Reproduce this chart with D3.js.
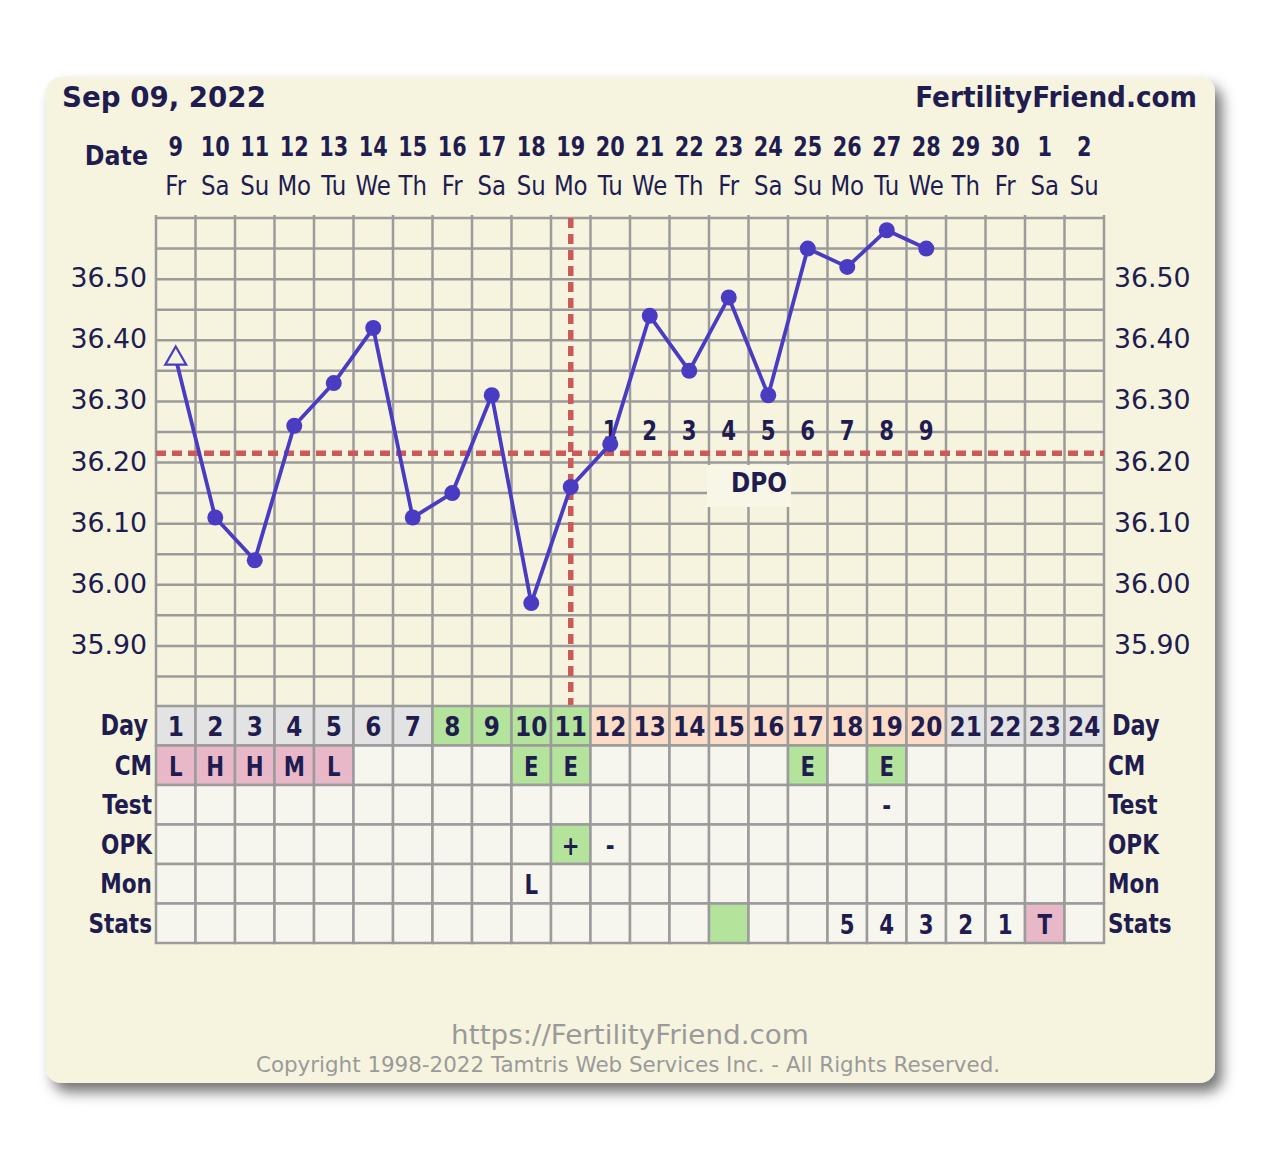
<!DOCTYPE html>
<html><head><meta charset="utf-8">
<script src="https://cdn.jsdelivr.net/npm/d3@7"></script>
<style>html,body{margin:0;padding:0;background:#fff}svg{display:block}</style>
</head><body>
<script>
// ---- data ----
const titleDate = "Sep 09, 2022";
const siteName = "FertilityFriend.com";
const dates = [9,10,11,12,13,14,15,16,17,18,19,20,21,22,23,24,25,26,27,28,29,30,1,2];
const dows = ["Fr","Sa","Su","Mo","Tu","We","Th","Fr","Sa","Su","Mo","Tu","We","Th","Fr","Sa","Su","Mo","Tu","We","Th","Fr","Sa","Su"];
const cycleDays = d3.range(1, 25);
const temps = [36.37,36.11,36.04,36.26,36.33,36.42,36.11,36.15,36.31,35.97,36.16,36.23,36.44,36.35,36.47,36.31,36.55,36.52,36.58,36.55];
const tempTicks = [36.50,36.40,36.30,36.20,36.10,36.00,35.90];
const coverline = 36.215;
const ovulationDay = 11;
const dpoLabels = ["1","2","3","4","5","6","7","8","9"];
const dayPhase = ["n","n","n","n","n","n","n","f","f","f","f","l","l","l","l","l","l","l","l","l","n","n","n","n"];
const cmRow    = ["L","H","H","M","L","","","","","E","E","","","","","","E","","E","","","","",""];
const testRow  = ["","","","","","","","","","","","","","","","","","","-","","","","",""];
const opkRow   = ["","","","","","","","","","","+","-","","","","","","","","","","","",""];
const monRow   = ["","","","","","","","","","L","","","","","","","","","","","","","",""];
const statsRow = ["","","","","","","","","","","","","","","","","","5","4","3","2","1","T",""];
const rowNames = ["Day","CM","Test","OPK","Mon","Stats"];
const footer1 = "https://FertilityFriend.com";
const footer2 = "Copyright 1998-2022 Tamtris Web Services Inc. - All Rights Reserved.";

// ---- styles ----
const NAVY = "#201c50", GRID = "#9b9b9b", RED = "#cd5a5a", LINE = "#4a3cc2";
const PANEL = "#f6f4df", EMPTY = "#f6f6ef", GRAY = "#e3e3e3", GREEN = "#b4e39b", PEACH = "#fbdcc6", PINK = "#e9b8c8";
const FONT = "'DejaVu Sans', Verdana, sans-serif";

const W = 1270, H = 1154;
const svg = d3.select("body").append("svg").attr("width", W).attr("height", H);
const defs = svg.append("defs");
const f = defs.append("filter").attr("id","sh").attr("x","-5%").attr("y","-5%").attr("width","115%").attr("height","115%");
f.append("feDropShadow").attr("dx",7).attr("dy",9).attr("stdDeviation",7).attr("flood-color","#000").attr("flood-opacity",0.55);

svg.append("rect").attr("x",46).attr("y",77).attr("width",1169).attr("height",1006)
  .attr("rx",15).attr("fill",PANEL).attr("filter","url(#sh)");

const x = d3.scaleBand().domain(cycleDays).range([156, 1104]);
const cx = d => x(d) + x.bandwidth()/2;
const y = d3.scaleLinear().domain([35.8, 36.6]).range([707, 218]);

function txt(g, px, py, s, o) {
  o = o || {};
  return g.append("text")
    .attr("transform", `translate(${px},${py}) scale(${o.sx||1},1)`)
    .attr("text-anchor", o.anchor || "middle")
    .attr("font-family", FONT)
    .attr("font-size", o.size || 24)
    .attr("font-weight", o.bold ? "bold" : "normal")
    .attr("fill", o.fill || NAVY)
    .text(s);
}

// header
txt(svg, 62, 107, titleDate, {anchor:"start", size:29, bold:true, sx:0.955});
txt(svg, 1197, 107, siteName, {anchor:"end", size:28, bold:true, sx:0.94});
txt(svg, 148, 165, "Date", {anchor:"end", size:27, bold:true, sx:0.88});
const hdr = svg.append("g");
cycleDays.forEach((d,i) => {
  txt(hdr, cx(d), 156, String(dates[i]), {size:26, bold:true, sx:0.8});
  txt(hdr, cx(d), 195, dows[i], {size:26, sx:0.88});
});

// plot grid
const grid = svg.append("g").attr("stroke", GRID).attr("stroke-width", 2.5);
const hVals = d3.range(0, 17).map(k => 35.8 + k*0.05);
grid.selectAll("line.h").data(hVals).join("line")
  .attr("x1", 156).attr("x2", 1104).attr("y1", d => y(d)).attr("y2", d => y(d));
grid.selectAll("line.v").data(d3.range(0, 25)).join("line")
  .attr("x1", k => 156 + k*x.bandwidth()).attr("x2", k => 156 + k*x.bandwidth())
  .attr("y1", y(36.6) - 3).attr("y2", 707);

// axis labels
const ax = svg.append("g");
tempTicks.forEach(t => {
  txt(ax, 147, y(t) + 8, t.toFixed(2), {anchor:"end", size:26, sx:1.03});
  txt(ax, 1114, y(t) + 8, t.toFixed(2), {anchor:"start", size:26, sx:1.03});
});

// DPO box
svg.append("rect").attr("x", 707).attr("y", 465).attr("width", 84).attr("height", 42).attr("fill", "#f8f6e6");
txt(svg, 759, 492, "DPO", {size:27, bold:true, sx:0.86});

// cover line & ovulation line
svg.append("line").attr("x1",156).attr("x2",1104).attr("y1",y(coverline)).attr("y2",y(coverline))
  .attr("stroke",RED).attr("stroke-width",5.5).attr("stroke-dasharray","10,6");
svg.append("line").attr("x1",cx(ovulationDay)).attr("x2",cx(ovulationDay)).attr("y1",y(36.6)).attr("y2",707)
  .attr("stroke",RED).attr("stroke-width",5.5).attr("stroke-dasharray","10,6");

// DPO numbers
const dpo = svg.append("g");
dpoLabels.forEach((s,i) => txt(dpo, cx(ovulationDay + 1 + i), 440, s, {size:26, bold:true, sx:0.82}));

// temperature line
const pts = temps.map((t,i) => [cx(i+1), y(t)]);
svg.append("path").attr("d", d3.line()(pts)).attr("fill","none").attr("stroke",LINE).attr("stroke-width",3.8).attr("stroke-linejoin","round");
svg.append("g").selectAll("circle").data(pts.slice(1)).join("circle")
  .attr("cx", d => d[0]).attr("cy", d => d[1]).attr("r", 8).attr("fill", LINE);
svg.append("path").attr("d", d3.symbol(d3.symbolTriangle, 190)())
  .attr("transform", `translate(${pts[0][0]},${pts[0][1]})`)
  .attr("fill", PANEL).attr("stroke", LINE).attr("stroke-width", 2.2);

// table
const rowTop = 706, rowH = 39.5;
const tbl = svg.append("g");
const rows = [cycleDays.map(String), cmRow, testRow, opkRow, monRow, statsRow];
function cellFill(r, i) {
  if (r === 0) return dayPhase[i] === "f" ? GREEN : dayPhase[i] === "l" ? PEACH : GRAY;
  if (r === 1) return cmRow[i] === "E" ? GREEN : cmRow[i] ? PINK : EMPTY;
  if (r === 3) return opkRow[i] === "+" ? GREEN : EMPTY;
  if (r === 5) return i === 14 ? GREEN : statsRow[i] === "T" ? PINK : EMPTY;
  return EMPTY;
}
rows.forEach((row, r) => {
  cycleDays.forEach((d, i) => {
    tbl.append("rect").attr("x", x(d)).attr("y", rowTop + r*rowH).attr("width", x.bandwidth()).attr("height", rowH)
      .attr("fill", cellFill(r, i)).attr("stroke", GRID).attr("stroke-width", 2.5);
  });
});
rows.forEach((row, r) => {
  row.forEach((s, i) => {
    if (!s) return;
    if (r === 0) txt(tbl, cx(i+1), rowTop + r*rowH + 30, s, {size:27, bold:true, sx:0.86});
    else txt(tbl, cx(i+1), rowTop + r*rowH + 30, s, {size:26, bold:true, sx:0.82});
  });
  const big = r === 0;
  txt(tbl, big ? 148 : 152, rowTop + r*rowH + 29, rowNames[r], {anchor:"end", size: big ? 28 : 27, bold:true, sx:0.8});
  txt(tbl, big ? 1112 : 1108, rowTop + r*rowH + 29, rowNames[r], {anchor:"start", size: big ? 28 : 27, bold:true, sx:0.8});
});

// footer
txt(svg, 630, 1044, footer1, {size:26, fill:"#9a9a9a", sx:1.07});
txt(svg, 628, 1072, footer2, {size:21, fill:"#9a9a9a", sx:1.02});
</script>
</body></html>
